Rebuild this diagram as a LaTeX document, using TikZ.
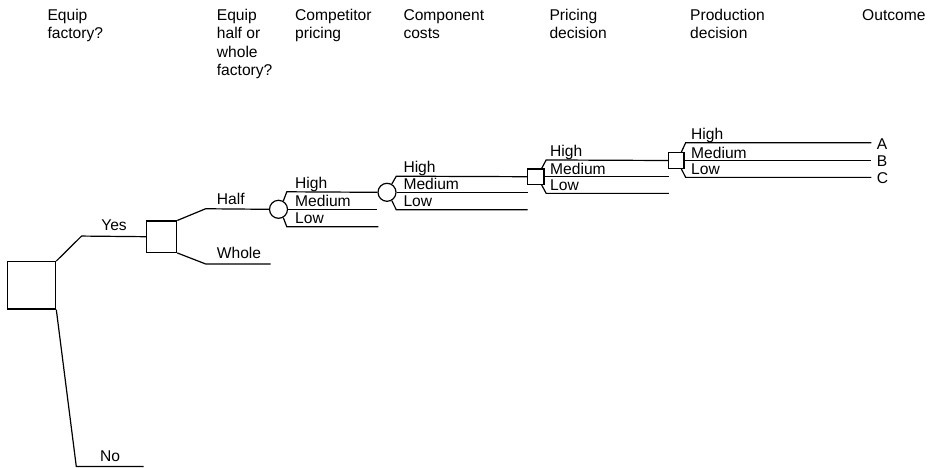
\documentclass[tikz,border=0pt]{standalone}
\usepackage{fontspec}
\setmainfont{Liberation Sans}
\usetikzlibrary{calc}

\begin{document}
\begin{tikzpicture}[
    x=1pt, y=-1pt,
    decision/.style={rectangle, draw, line width=1.2pt, inner sep=0pt},
    chance/.style={circle, draw, line width=1.2pt, inner sep=0pt, minimum size=18pt},
    branch/.style={line width=1.2pt},
    lbl/.style={anchor=base west, inner sep=0pt, font=\fontsize{15.6}{18.3}\selectfont},
    head/.style={lbl, align=left},
    outc/.style={lbl, anchor=west},
  ]
    \useasboundingbox (0,0) rectangle (936,467);

    % column headings (base = last line)
    \node[head] (hfac)  at (47.3,38.9)  {Equip\\factory?};
    \node[head] (hhalf) at (216.7,75.5) {Equip\\half or\\whole\\factory?};
    \node[head] (hcomp) at (295,38.9)   {Competitor\\pricing};
    \node[head] (hcost) at (403.3,38.9) {Component\\costs};
    \node[head] (hpric) at (549.3,38.9) {Pricing\\decision};
    \node[head] (hprod) at (690,38.9)   {Production\\decision};
    \node[head] (hout)  at (862,20.6)   {Outcome};

    % decision and chance nodes
    \node[decision, minimum width=48.4pt, minimum height=47.3pt] (root) at (31.5,285.3) {};
    \node[decision, minimum width=30pt, minimum height=31.3pt] (half) at (161.7,236.7) {};
    \node[chance] (comp) at (278.5,209.3) {};
    \node[chance] (cost) at (387,192.3) {};
    \node[decision, minimum width=16.7pt, minimum height=15.3pt] (price) at (535.7,176.7) {};
    \node[decision, minimum size=15.7pt] (prod) at (676.2,160.5) {};

    % equip factory?
    \draw[branch] (root.north east) -- ++(25.3,-25) -- (half.west);
    \draw[branch] (root.south east) -- ++(20,157) -- ++(67.3,0) coordinate (no);
    \node[lbl, anchor=base] (yes) at (114,230.7) {Yes};
    \node[lbl] (nolbl) at (100,461.7) {No};

    % half or whole
    \draw[branch] (half.north east) -- ++(28.3,-11.7) -- (comp.west);
    \draw[branch] (half.south east) -- ++(28.3,11) -- ++(65,0) coordinate (whole);
    \node[lbl] (halflbl) at (216.7,204.3) {Half};
    \node[lbl] (wholelbl) at (216.7,258.3) {Whole};

    % competitor pricing
    \draw[branch] (comp.60) -- ++(3.5,-9.2) -- (cost.west);
    \draw[branch] (comp.east) -- (cost.west |- comp.east) coordinate (compM);
    \draw[branch] (comp.-60) -- ++(3.5,9.2) -- ++(91.5,0) coordinate (compL);
    \node[lbl] (comph) at (295,188.3) {High};
    \node[lbl] (compm) at (295,206.9) {Medium};
    \node[lbl] (compl) at (295,223.6) {Low};

    % component costs
    \draw[branch] (cost.60) -- ++(4.5,-7.8) -- (price.west);
    \draw[branch] (cost.east) -- ++(131.3,0) coordinate (costM);
    \draw[branch] (cost.-60) -- ++(4.5,9.2) -- ++(131.3,0) coordinate (costL);
    \node[lbl] (costh) at (403.3,172.7) {High};
    \node[lbl] (costm) at (403.3,189.9) {Medium};
    \node[lbl] (costl) at (403.3,206.9) {Low};

    % pricing decision
    \draw[branch] ($(price.north east)+(-3,0)$) -- ++(4.5,-8.5) -- (prod.west);
    \draw[branch] (price.east) -- ++(124.3,0) coordinate (priceM);
    \draw[branch] ($(price.south east)+(-3,0)$) -- ++(4.5,8.4) -- ++(122.8,0) coordinate (priceL);
    \node[lbl] (priceh) at (550,156.5) {High};
    \node[lbl] (pricem) at (550,174.3) {Medium};
    \node[lbl] (pricel) at (550,190.3) {Low};

    % production decision
    \draw[branch] ($(prod.north east)+(-3.3,0)$) -- ++(4.3,-9.3) -- ++(185.7,0) coordinate (outA);
    \draw[branch] (prod.east) -- ++(186.6,0) coordinate (outB);
    \draw[branch] ($(prod.south east)+(-3.3,0)$) -- ++(4.3,8.4) -- ++(185.7,0) coordinate (outC);
    \node[lbl] (prodh) at (691,139.3) {High};
    \node[lbl] (prodm) at (691,158.1) {Medium};
    \node[lbl] (prodl) at (691,174.3) {Low};

    % outcomes
    \node[outc] (a) at ($(outA)+(5.3,1)$) {A};
    \node[outc] (b) at ($(outB)+(5.3,1)$) {B};
    \node[outc] (c) at ($(outC)+(5.3,1)$) {C};
\end{tikzpicture}
\end{document}
